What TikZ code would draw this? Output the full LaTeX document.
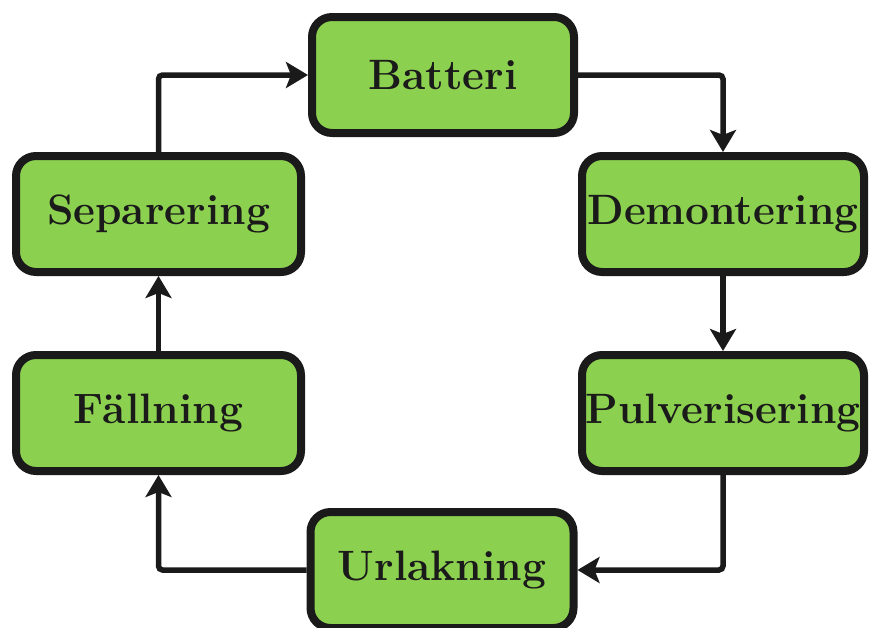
\documentclass[tikz,border=0pt]{standalone}
\usetikzlibrary{arrows.meta}
\definecolor{boxgreen}{RGB}{140,208,80}
\definecolor{ink}{RGB}{26,26,26}
\begin{document}
\begin{tikzpicture}[x=1pt,y=-1pt,
  stepbox/.style={draw=ink, fill=boxgreen, line width=8pt, rounded corners=20pt,
    minimum height=116pt, inner sep=0pt,
    font=\fontsize{42.5}{50}\selectfont\bfseries, text=ink},
  flow/.style={draw=ink, line width=5.5pt, rounded corners=4pt,
    -{Stealth[length=22pt,width=26pt,inset=5pt]}}
]
\useasboundingbox (0,0) rectangle (869,627);
\clip (0,0) rectangle (869,627);
\node[stepbox, minimum width=262pt] (bat) at (443,75) {Batteri};
\node[stepbox, minimum width=282pt] (dem) at (723,214) {Demontering};
\node[stepbox, minimum width=282pt] (pul) at (723,413) {Pulverisering};
\node[stepbox, minimum width=263pt] (url) at (442,570) {Urlakning};
\node[stepbox, minimum width=285pt] (fal) at (158.5,413) {Fällning};
\node[stepbox, minimum width=285pt] (sep) at (158.5,214) {Separering};
\draw[flow] (sep.north) |- (bat.west);
\draw[flow] (bat.east) -| (dem.north);
\draw[flow] (dem.south) -- (pul.north);
\draw[flow] (pul.south) |- (url.east);
\draw[flow] (url.west) -| (fal.south);
\draw[flow] (fal.north) -- (sep.south);
\end{tikzpicture}
\end{document}
